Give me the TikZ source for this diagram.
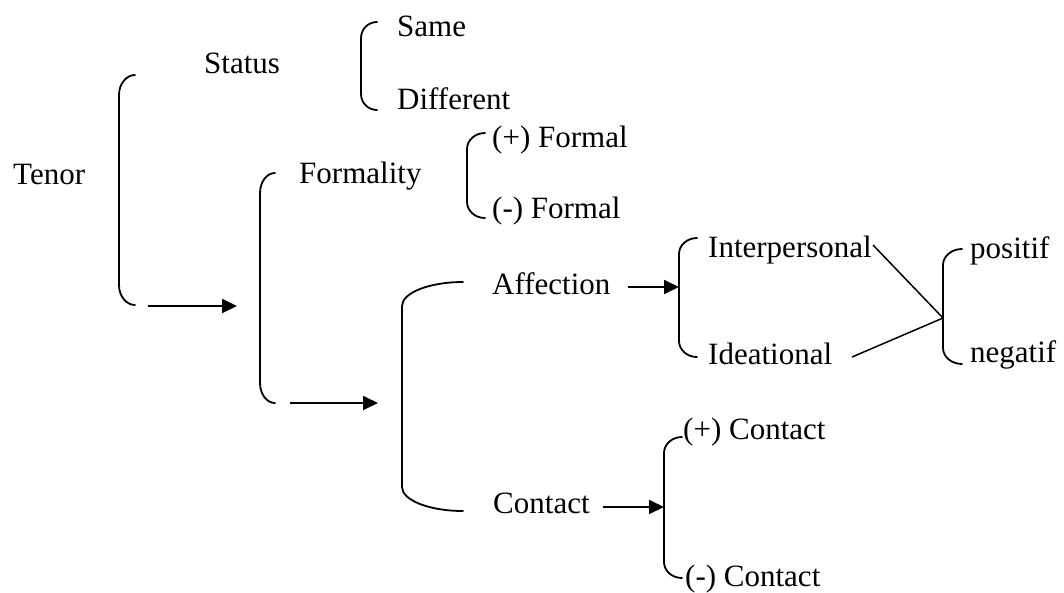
\documentclass[tikz,border=0pt]{standalone}
\usepackage{fontspec}
\setmainfont{Liberation Serif}
\usetikzlibrary{arrows.meta}
\newcommand\bkt[5]{% x0 (vertical), x1 (ends), ytop, ybot, curve height
  \draw[brk] (#2,#3) .. controls ({#1+0.448*(#2-#1)},#3) and (#1,{#3+0.448*#5}) .. (#1,{#3+#5})
    -- (#1,{#4-#5}) .. controls (#1,{#4-0.448*#5}) and ({#1+0.448*(#2-#1)},#4) .. (#2,#4);}
\begin{document}
\begin{tikzpicture}[x=1pt,y=-1pt,
  lbl/.style={anchor=base west,inner sep=0pt,font=\fontsize{31}{37}\selectfont},
  brk/.style={line width=1.8pt,line cap=round},
  arr/.style={line width=1.8pt,-{Triangle[length=15pt,width=14pt]}},
  ln/.style={line width=1.5pt}]
\useasboundingbox (0,0) rectangle (1064,592);
% labels
\node[lbl] (tenor) at (13,184) {Tenor};
\node[lbl] (status) at (204,73) {Status};
\node[lbl] (same) at (397,36) {Same};
\node[lbl] (diff) at (397,109) {Different};
\node[lbl] (formality) at (299,183) {Formality};
\node[lbl] (pformal) at (492,147) {(+) Formal};
\node[lbl] (mformal) at (492,218) {(-) Formal};
\node[lbl] (affection) at (492,294) {Affection};
\node[lbl] (contact) at (493,513) {Contact};
\node[lbl] (inter) at (708,257) {Interpersonal};
\node[lbl] (idea) at (708,364) {Ideational};
\node[lbl] (pos) at (970,258) {positif};
\node[lbl] (neg) at (970,362) {negatif};
\node[lbl] (pcontact) at (683,439) {(+) Contact};
\node[lbl] (mcontact) at (685,586) {(-) Contact};
% brackets
\bkt{119}{135}{75}{305}{20}
\bkt{361}{377}{22}{110}{16}
\bkt{260}{275}{173}{403}{20}
\bkt{467}{485}{133}{218}{16}
\bkt{402}{463}{282}{511}{24}
\bkt{679}{697}{238}{357}{16}
\bkt{943}{962}{249}{364}{16}
\bkt{664}{682}{437}{578}{16}
% arrow coordinates
\coordinate (a1s) at (148,306); \coordinate (a1e) at (237,306);
\coordinate (a2s) at (290,403); \coordinate (a2e) at (378,403);
\coordinate (a3s) at (628,287); \coordinate (a3e) at (679,287);
\coordinate (a4s) at (603,507); \coordinate (a4e) at (664,507);
\draw[arr] (a1s) -- (a1e);
\draw[arr] (a2s) -- (a2e);
\draw[arr] (a3s) -- (a3e);
\draw[arr] (a4s) -- (a4e);
% crossing lines
\coordinate (meet) at (943,318);
\coordinate (interend) at (873,245);
\coordinate (ideaend) at (852,357);
\draw[ln] (interend) -- (meet);
\draw[ln] (ideaend) -- (meet);
\end{tikzpicture}
\end{document}
